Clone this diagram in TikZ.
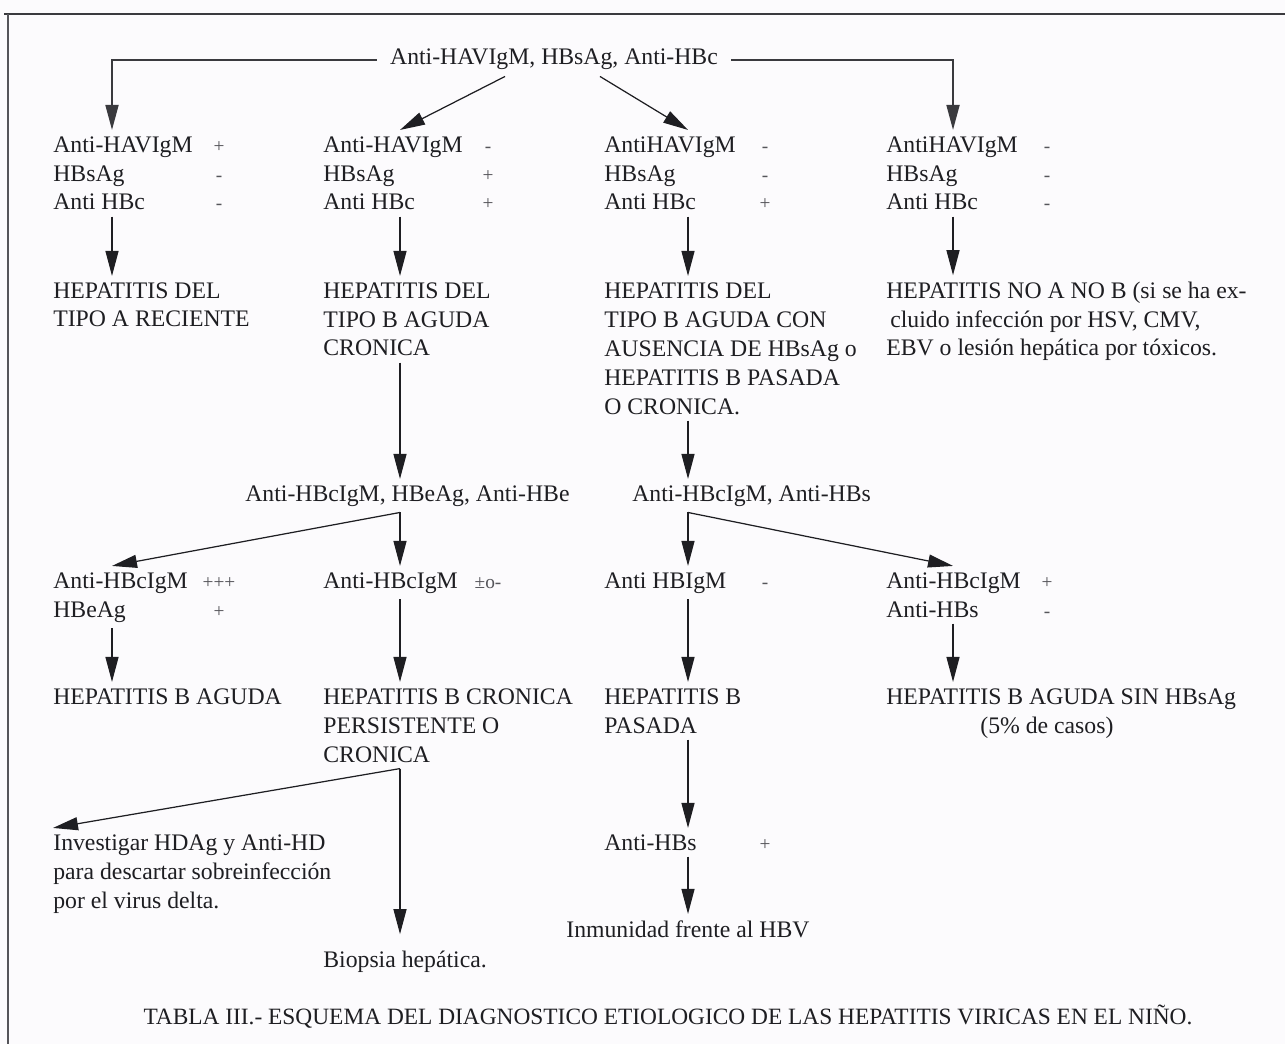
\documentclass[tikz,border=0pt]{standalone}
\usepackage{fontspec}
\setmainfont{Liberation Serif}
\usepackage{xcolor}
\usepackage{tikz}
\usetikzlibrary{arrows.meta,positioning}
\definecolor{hvInk}{HTML}{1E1E22}
\definecolor{hvMuted}{HTML}{55555A}
\definecolor{hvRule}{HTML}{3A3A3E}
\definecolor{hvPaper}{HTML}{FCFBFD}
\tikzset{
  hv diagram/.style={font=\fontsize{13.5}{16.5}\selectfont, text=hvInk},
  % base of a multi-line node is the baseline of its last line
  hv text/.style={anchor=base west, align=left, inner xsep=0pt, inner ysep=0.12cm},
  hv title/.style={anchor=base, inner xsep=0.26cm, inner ysep=0.12cm},
  hv sign/.style={anchor=base, align=center, inner sep=0pt, text=hvMuted,
    font=\fontsize{11}{16.5}\selectfont},
  hv arrow/.style={-{Triangle[length=0.5cm,width=0.26cm]}, draw=hvInk, line width=0.7pt},
  hv fork/.style={hv arrow, draw=hvRule, line width=1pt},
  hv frame/.style={draw=hvRule, line width=1.3pt}
}

\begin{document}
\begin{tikzpicture}[hv diagram]
\fill[hvPaper] (0,0) rectangle (25.7,-20.88);
\useasboundingbox (0,0) rectangle (25.7,-20.88);
% open frame: top rule and left rule only
\draw[hv frame] (0.08,-0.28) -- (25.7,-0.28);
\draw[hv frame, draw=hvMuted, line width=0.9pt] (0.16,-0.28) -- (0.16,-20.88);

% arrow spines of the four columns
\coordinate (k1) at (2.24,0);
\coordinate (k2) at (8.00,0);
\coordinate (k3) at (13.76,0);
\coordinate (k4) at (19.06,0);

\node[hv title] (top) at (11.08,-1.30) {Anti-HAVIgM, HBsAg, Anti-HBc};

% first markers
\node[hv text] (c1) at (1.06,-4.20) {Anti-HAVIgM\\HBsAg\\Anti HBc};
\node[hv sign] (c1s) at (4.38,-4.20) {+\\-\\-};
\node[hv text] (c2) at (6.46,-4.20) {Anti-HAVIgM\\HBsAg\\Anti HBc};
\node[hv sign] (c2s) at (9.76,-4.20) {-\\+\\+};
\node[hv text] (c3) at (12.08,-4.20) {AntiHAVIgM\\HBsAg\\Anti HBc};
\node[hv sign] (c3s) at (15.30,-4.20) {-\\-\\+};
\node[hv text] (c4) at (17.72,-4.20) {AntiHAVIgM\\HBsAg\\Anti HBc};
\node[hv sign] (c4s) at (20.94,-4.20) {-\\-\\-};

\node[hv text] (r1) at (1.06,-6.54) {HEPATITIS DEL\\TIPO A RECIENTE};
\node[hv text] (r2) at (6.46,-7.12) {HEPATITIS DEL\\TIPO B AGUDA\\CRONICA};
\node[hv text] (r3) at (12.08,-8.28) {HEPATITIS DEL\\TIPO B AGUDA CON\\AUSENCIA DE HBsAg o\\HEPATITIS B PASADA\\O CRONICA.};
\node[hv text] (r4) at (17.72,-7.12) {HEPATITIS NO A NO B (si se ha ex-\\\hspace*{0.08cm}cluido infección por HSV, CMV,\\EBV o lesión hepática por tóxicos.};

% second markers
\node[hv text] (bh) at (4.90,-10.02) {Anti-HBcIgM, HBeAg, Anti-HBe};
\node[hv text] (bs) at (12.64,-10.02) {Anti-HBcIgM, Anti-HBs};

\node[hv text] (d1) at (1.06,-12.34) {Anti-HBcIgM\\HBeAg};
\node[hv sign] (d1s) at (4.38,-12.34) {+++\\+};
\node[hv text] (d2) at (6.46,-11.76) {Anti-HBcIgM};
\node[hv sign] (d2s) at (9.76,-11.76) {±o-};
\node[hv text] (d3) at (12.08,-11.76) {Anti HBIgM};
\node[hv sign] (d3s) at (15.30,-11.76) {-};
\node[hv text] (d4) at (17.72,-12.34) {Anti-HBcIgM\\Anti-HBs};
\node[hv sign] (d4s) at (20.94,-12.34) {+\\-};

\node[hv text] (e1) at (1.06,-14.08) {HEPATITIS B AGUDA};
\node[hv text] (e2) at (6.46,-15.24) {HEPATITIS B CRONICA\\PERSISTENTE O\\CRONICA};
\node[hv text] (e3) at (12.08,-14.66) {HEPATITIS B\\PASADA};
\node[hv text] (e4) at (17.72,-14.66) {HEPATITIS B AGUDA SIN HBsAg\\\hspace*{1.88cm}(5\% de casos)};

\node[hv text] (f1) at (1.06,-18.16) {Investigar HDAg y Anti-HD\\para descartar sobreinfección\\por el virus delta.};
\node[hv text] (f3) at (12.08,-17.00) {Anti-HBs};
\node[hv sign] (f3s) at (15.30,-17.00) {+};

\node[hv text] (g2) at (6.46,-19.34) {Biopsia hepática.};
\node[hv text] (g3) at (11.32,-18.74) {Inmunidad frente al HBV};

\node[anchor=base, font=\fontsize{13.3}{16}\selectfont] (cap) at (13.36,-20.48)
  {TABLA III.- ESQUEMA DEL DIAGNOSTICO ETIOLOGICO DE LAS HEPATITIS VIRICAS EN EL NIÑO.};

% connectors
\draw[hv fork] (top.west) -| (k1 |- c1.north);
\draw[hv fork] (top.east) -| (k4 |- c4.north);
\draw[hv arrow] ([xshift=-0.98cm]top.south) -- (k2 |- c2.north);
\draw[hv arrow] ([xshift=0.92cm]top.south) -- (k3 |- c3.north);
\foreach \k/\a/\b in {k1/c1/r1,k2/c2/r2,k3/c3/r3,k4/c4/r4}
  \draw[hv arrow] (\k |- \a.south) -- (\k |- \b.north);
\draw[hv arrow] (k2 |- r2.south) -- (k2 |- bh.north);
\draw[hv arrow] (k3 |- r3.south) -- (k3 |- bs.north);
\coordinate (bhs) at (k2 |- bh.south);
\coordinate (bss) at (k3 |- bs.south);
\draw[hv arrow] (bhs) -- (k1 |- d1.north);
\draw[hv arrow] (bhs) -- (k2 |- d2.north);
\draw[hv arrow] (bss) -- (k3 |- d3.north);
\draw[hv arrow] (bss) -- (k4 |- d4.north);
\foreach \k/\a/\b in {k1/d1/e1,k2/d2/e2,k3/d3/e3,k4/d4/e4}
  \draw[hv arrow] (\k |- \a.south) -- (\k |- \b.north);
\coordinate (e2s) at (k2 |- e2.south);
\draw[hv arrow] (e2s) -- (f1.north west);
\draw[hv arrow, shorten >=0.2cm] (e2s) -- (k2 |- g2.north);
\draw[hv arrow] (k3 |- e3.south) -- (k3 |- f3.north);
\draw[hv arrow] (k3 |- f3.south) -- (k3 |- g3.north);
\end{tikzpicture}
\end{document}
